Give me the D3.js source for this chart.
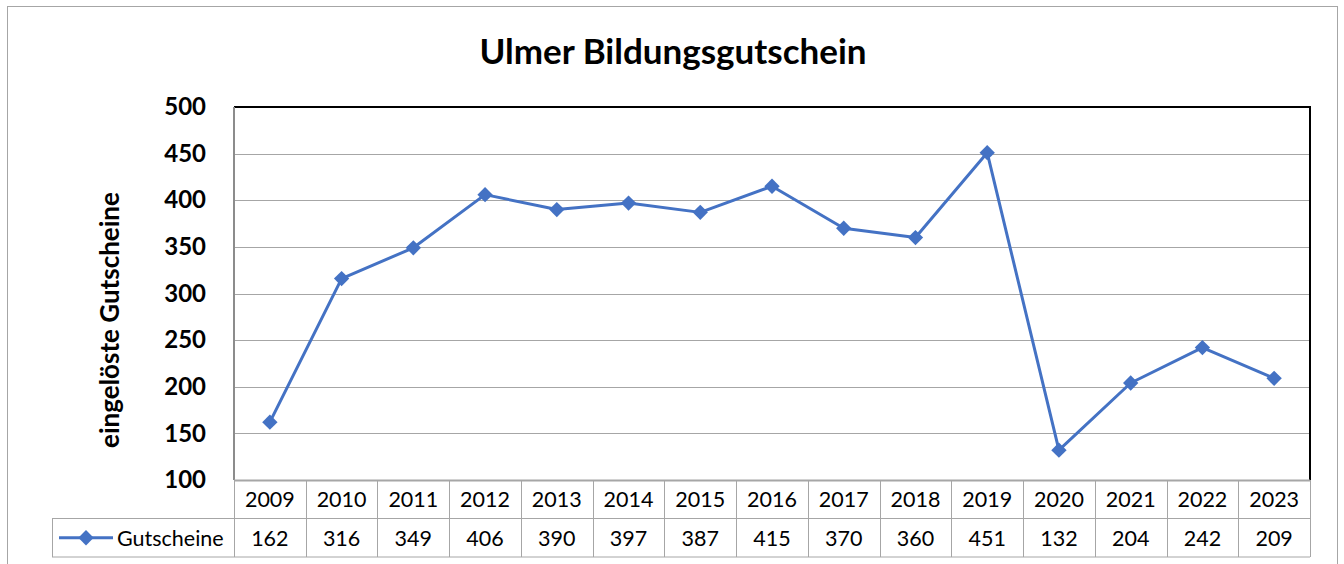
<html>
<head>
<style>
  body { margin: 0; background: #fff; }
  text { font-family: Lato, "Open Sans", sans-serif; }
</style>
</head>
<body>
  <div id = 'chart'></div>
  <script src = 'https://cdn.jsdelivr.net/npm/d3@7/dist/d3.min.js'></script>
  <script>
    // data
    var years = ['2009','2010','2011','2012','2013','2014','2015','2016','2017','2018','2019','2020','2021','2022','2023'];
    var gutscheine = [162,316,349,406,390,397,387,415,370,360,451,132,204,242,209];
    var yTicks = [100,150,200,250,300,350,400,450,500];
    var seriesName = 'Gutscheine';

    (function(){
      var width = 1344, height = 564,
          pLeft = 234, pRight = 1310, pTop = 107, pBottom = 480,
          rowH = 38.5,
          blue = '#4472C4';

      var svg = d3.select('#chart').append('svg')
        .attr('width', width)
        .attr('height', height);

      // outer chart border
      svg.append('rect')
        .attr('x', 7.5).attr('y', 6.5)
        .attr('width', 1330).attr('height', 600)
        .attr('fill', 'none').attr('stroke', '#a6a6a6').attr('stroke-width', 1);

      var x = d3.scaleBand().domain(years).range([pLeft, pRight]);
      var y = d3.scaleLinear().domain([100, 500]).range([pBottom, pTop]);

      // gridlines
      svg.selectAll('line.grid')
        .data(yTicks.filter(function(d){ return d > 100 && d < 500; }))
        .enter().append('line')
        .attr('class', 'grid')
        .attr('x1', pLeft).attr('x2', pRight)
        .attr('y1', function(d){ return Math.round(y(d)) + 0.5; })
        .attr('y2', function(d){ return Math.round(y(d)) + 0.5; })
        .attr('stroke', '#a6a6a6').attr('stroke-width', 1);

      // plot frame: top and right black, left grey
      svg.append('line').attr('x1', pLeft).attr('x2', pRight + 1).attr('y1', pTop).attr('y2', pTop)
        .attr('stroke', '#000').attr('stroke-width', 2);
      svg.append('line').attr('x1', pRight).attr('x2', pRight).attr('y1', pTop).attr('y2', pBottom)
        .attr('stroke', '#000').attr('stroke-width', 2);
      svg.append('line').attr('x1', pLeft).attr('x2', pLeft).attr('y1', pTop).attr('y2', pBottom)
        .attr('stroke', '#8c8c8c').attr('stroke-width', 2);

      // y axis labels
      var yAxis = d3.axisLeft(y).tickValues(yTicks).tickSize(0).tickPadding(28);
      var gy = svg.append('g').attr('transform', 'translate(' + pLeft + ',0)').call(yAxis);
      gy.select('.domain').remove();
      gy.selectAll('text')
        .attr('font-size', 24).attr('font-weight', 'bold').attr('fill', '#000')
        .attr('font-family', 'Lato, sans-serif');

      // data table grid
      var tableGrey = '#a6a6a6';
      var tbl = svg.append('g');
      tbl.append('line').attr('x1', pLeft).attr('x2', pRight).attr('y1', pBottom + 0.5).attr('y2', pBottom + 0.5)
        .attr('stroke', tableGrey).attr('stroke-width', 2);
      tbl.append('line').attr('x1', 52).attr('x2', pRight).attr('y1', pBottom + rowH).attr('y2', pBottom + rowH)
        .attr('stroke', tableGrey);
      tbl.append('line').attr('x1', 52).attr('x2', pRight).attr('y1', pBottom + 2 * rowH).attr('y2', pBottom + 2 * rowH)
        .attr('stroke', tableGrey);
      tbl.append('line').attr('x1', 52.5).attr('x2', 52.5).attr('y1', pBottom + rowH).attr('y2', pBottom + 2 * rowH)
        .attr('stroke', tableGrey);
      tbl.selectAll('line.col')
        .data(years.concat(['end']))
        .enter().append('line')
        .attr('class', 'col')
        .attr('x1', function(d, i){ return Math.round(pLeft + i * x.bandwidth()) + 0.5; })
        .attr('x2', function(d, i){ return Math.round(pLeft + i * x.bandwidth()) + 0.5; })
        .attr('y1', pBottom).attr('y2', pBottom + 2 * rowH)
        .attr('stroke', tableGrey);

      // year row
      tbl.selectAll('text.year')
        .data(years)
        .enter().append('text')
        .attr('class', 'year')
        .attr('x', function(d){ return x(d) + x.bandwidth() / 2; })
        .attr('y', pBottom + rowH / 2 + 8)
        .attr('text-anchor', 'middle')
        .attr('font-size', 21.5)
        .text(function(d){ return d; });

      // value row
      tbl.selectAll('text.val')
        .data(gutscheine)
        .enter().append('text')
        .attr('class', 'val')
        .attr('x', function(d, i){ return x(years[i]) + x.bandwidth() / 2; })
        .attr('y', pBottom + rowH * 1.5 + 8)
        .attr('text-anchor', 'middle')
        .attr('font-size', 21.5)
        .text(function(d){ return d; });

      // legend key in table
      var ly = pBottom + rowH * 1.5;
      tbl.append('line').attr('x1', 59).attr('x2', 113).attr('y1', ly).attr('y2', ly)
        .attr('stroke', blue).attr('stroke-width', 3);
      tbl.append('path').attr('d', d3.symbol(d3.symbolDiamond2, 150)())
        .attr('transform', 'translate(86,' + ly + ')')
        .attr('fill', blue);
      tbl.append('text').attr('x', 117).attr('y', ly + 8)
        .attr('font-size', 21.5).text(seriesName);

      // line + markers
      var line = d3.line()
        .x(function(d, i){ return x(years[i]) + x.bandwidth() / 2; })
        .y(function(d){ return y(d); });
      svg.append('path')
        .datum(gutscheine)
        .attr('d', line)
        .attr('fill', 'none')
        .attr('stroke', blue)
        .attr('stroke-width', 3)
        .attr('stroke-linejoin', 'round');
      svg.selectAll('path.marker')
        .data(gutscheine)
        .enter().append('path')
        .attr('class', 'marker')
        .attr('d', d3.symbol(d3.symbolDiamond2, 150)())
        .attr('transform', function(d, i){
          return 'translate(' + (x(years[i]) + x.bandwidth() / 2) + ',' + y(d) + ')';
        })
        .attr('fill', blue);

      // title
      svg.append('text')
        .attr('x', 673).attr('y', 64)
        .attr('text-anchor', 'middle')
        .attr('font-size', 35).attr('font-weight', 'bold')
        .text('Ulmer Bildungsgutschein');

      // y axis title
      svg.append('text')
        .attr('transform', 'translate(119,320) rotate(-90)')
        .attr('text-anchor', 'middle')
        .attr('font-size', 26).attr('font-weight', 'bold')
        .text('eingelöste Gutscheine');
    })();
  </script>
</body>
</html>
